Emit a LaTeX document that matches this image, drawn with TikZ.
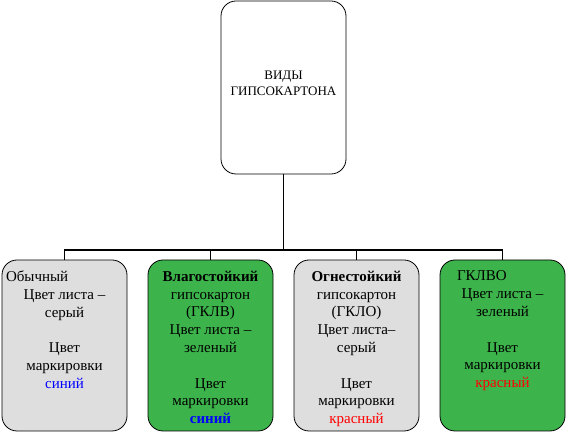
\documentclass[tikz,border=0pt]{standalone}
\usepackage{fontspec}
\setmainfont{Liberation Serif}
\definecolor{boxgreen}{HTML}{3CB44B}
\definecolor{boxgray}{HTML}{DEDEDE}
\definecolor{markblue}{HTML}{0000FF}
\definecolor{markred}{HTML}{FF0000}
\newcommand{\cell}[1]{\parbox[c][161pt][t]{117pt}{\centering\vspace*{6pt}#1}}

\begin{document}
\begin{tikzpicture}[edge from parent/.style={draw, line width=1.9pt},
	edge from parent path={(\tikzparentnode.south) -- ++(0,-76pt) -| (\tikzchildnode.north)},
	level distance=258pt, sibling distance=146pt,
	kind/.style={draw, line width=0.8pt, rounded corners=15pt, inner xsep=4pt, inner ysep=5pt, font=\fontsize{15}{17.8}\selectfont}]
	\useasboundingbox (0,0) rectangle (566pt,434pt);
		\node[draw, line width=0.8pt, rounded corners=15pt, minimum width=125pt, minimum height=173pt, align=center, font=\fontsize{13}{16}\selectfont](vidy) at (283.5pt,346.5pt) {ВИДЫ\\ГИПСОКАРТОНА\rule[-8pt]{0pt}{8pt}} [grow=down]
			child {node[kind, fill=boxgray](obych) {\cell{\makebox[\linewidth][l]{Обычный}\\Цвет листа –\\серый\\[17.8pt]Цвет\\маркировки\\\textcolor{markblue}{синий}}}}
			child {node[kind, fill=boxgreen](vlago) {\cell{\textbf{Влагостойкий}\\гипсокартон\\(ГКЛВ)\\Цвет листа –\\зеленый\\[17.8pt]Цвет\\маркировки\\\textcolor{markblue}{\textbf{синий}}}}}
			child {node[kind, fill=boxgray](ogne) {\cell{\textbf{Огнестойкий}\\гипсокартон\\(ГКЛО)\\Цвет листа–\\серый\\[17.8pt]Цвет\\маркировки\\\textcolor{markred}{красный}}}}
			child {node[kind, fill=boxgreen](glvo) {\cell{\makebox[\linewidth][l]{\hspace*{13pt}ГКЛВО}\\Цвет листа –\\зеленый\\[17.8pt]Цвет\\маркировки\\\textcolor{markred}{красный}}}};
	\end{tikzpicture}
\end{document}
